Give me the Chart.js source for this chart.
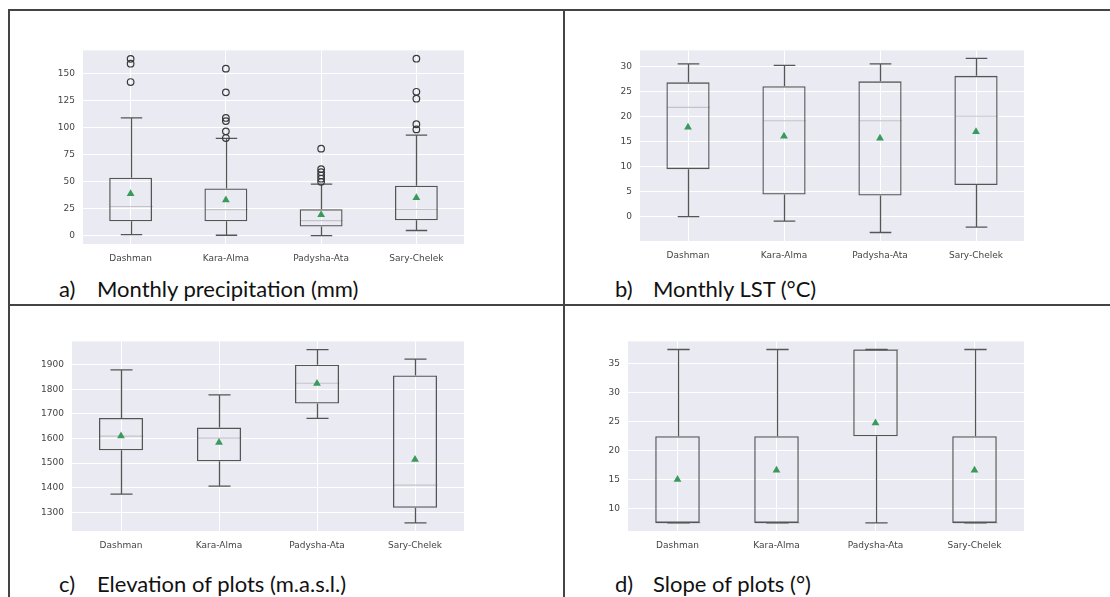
<!DOCTYPE html>
<html>
<head>
<meta charset="utf-8">
<script src="https://cdn.jsdelivr.net/npm/chart.js@4.4.0/dist/chart.umd.min.js"></script>
<style>
  body { margin: 0; background: #fff; width: 1110px; height: 597px; overflow: hidden; position: relative; font-family: Lato, sans-serif; }
  .rule { position: absolute; background: #444; }
  canvas { position: absolute; }
  .cap { position: absolute; font-size: 22px; line-height: 22px; color: #111; white-space: nowrap; }
</style>
</head>
<body>
<div class="rule" style="left:9px;top:9px;width:1101px;height:2px"></div>
<div class="rule" style="left:8px;top:9px;width:2px;height:588px"></div>
<div class="rule" style="left:563px;top:9px;width:2px;height:588px"></div>
<div class="rule" style="left:9px;top:304px;width:1101px;height:2px"></div>

<canvas id="chartA" width="447" height="237" style="left:23px;top:37px"></canvas>
<canvas id="chartB" width="450" height="234" style="left:580px;top:37px"></canvas>
<canvas id="chartC" width="458" height="233" style="left:12px;top:328px"></canvas>
<canvas id="chartD" width="462" height="233" style="left:568px;top:328px"></canvas>

<div class="cap" style="left:59px;top:278px">a)</div>
<div class="cap" style="left:97px;top:278px">Monthly precipitation (mm)</div>
<div class="cap" style="left:615px;top:278px">b)</div>
<div class="cap" style="left:653px;top:278px">Monthly LST (°C)</div>
<div class="cap" style="left:59px;top:573px">c)</div>
<div class="cap" style="left:97px;top:573px">Elevation of plots (m.a.s.l.)</div>
<div class="cap" style="left:615px;top:573px">d)</div>
<div class="cap" style="left:653px;top:573px">Slope of plots (°)</div>

<script>
const categories = ['Dashman', 'Kara-Alma', 'Padysha-Ata', 'Sary-Chelek'];

// a) monthly precipitation (mm)
const precipLow = [0.9, 0.3, 0, 4.7];
const precipQ1 = [13.3, 13.3, 8.3, 14.2];
const precipMedian = [26.9, 24, 13.9, 24.3];
const precipQ3 = [53.5, 43.5, 24.3, 46.1];
const precipHigh = [108.8, 89.9, 47.6, 92.9];
const precipMean = [38.7, 33, 19.2, 34.9];
const precipOutliers = [
  [163.5, 159, 142],
  [154.4, 132.5, 108.8, 105.9, 96.4, 90.2],
  [80.4, 61.5, 58.6, 55.6, 52.6, 49.7],
  [163.6, 133, 126.6, 103, 98.2]
];
const precipTicks = [0, 25, 50, 75, 100, 125, 150];

// b) monthly LST (°C)
const lstLow = [0, -0.9, -3.2, -2.1];
const lstQ1 = [9.5, 4.4, 4.2, 6.3];
const lstMedian = [21.9, 19.2, 19.2, 20.1];
const lstQ3 = [26.9, 26.1, 27.1, 28.2];
const lstHigh = [30.6, 30.3, 30.6, 31.7];
const lstMean = [17.9, 16.1, 15.7, 17.0];
const lstTicks = [0, 5, 10, 15, 20, 25, 30];

// c) elevation of plots (m.a.s.l.)
const elevLow = [1374, 1406, 1681, 1257];
const elevQ1 = [1552, 1507, 1742, 1318];
const elevMedian = [1609, 1601, 1824, 1410];
const elevQ3 = [1683, 1644, 1899, 1856];
const elevHigh = [1878, 1777, 1961, 1922];
const elevMean = [1610, 1583, 1823, 1514];
const elevTicks = [1300, 1400, 1500, 1600, 1700, 1800, 1900];

// d) slope of plots (°)
const slopeLow = [7.5, 7.5, 7.5, 7.5];
const slopeQ1 = [7.5, 7.5, 22.5, 7.5];
const slopeMedian = [7.5, 7.5, 37.5, 7.5];
const slopeQ3 = [22.5, 22.5, 37.5, 22.5];
const slopeHigh = [37.5, 37.5, 37.5, 37.5];
const slopeMean = [15.0, 16.6, 24.8, 16.6];
const slopeTicks = [10, 15, 20, 25, 30, 35];

const BOX_COLOR = '#555';
const MEDIAN_COLOR = '#c4c4c8';
const MEAN_COLOR = '#3a9a5b';
const TICK_FONT = { family: 'DejaVu Sans', size: 9 };

function boxPlugin(low, median, high) {
  return {
    id: 'boxParts',
    beforeDraw(chart) {
      const a = chart.chartArea;
      const ctx = chart.ctx;
      ctx.save();
      ctx.fillStyle = '#eaeaf2';
      ctx.fillRect(a.left, a.top, a.right - a.left, a.bottom - a.top);
      ctx.restore();
    },
    beforeDatasetsDraw(chart) {
      const ctx = chart.ctx;
      const y = chart.scales.y;
      const idx = chart.data.datasets.findIndex(d => d.type === 'bar');
      const meta = chart.getDatasetMeta(idx);
      const boxes = chart.data.datasets[idx].data;
      ctx.save();
      meta.data.forEach((bar, i) => {
        const cx = Math.round(bar.x) + 0.5;
        const half = bar.width / 2;
        // median
        ctx.strokeStyle = MEDIAN_COLOR;
        ctx.lineWidth = 1.2;
        ctx.beginPath();
        ctx.moveTo(cx - half, y.getPixelForValue(median[i]));
        ctx.lineTo(cx + half, y.getPixelForValue(median[i]));
        ctx.stroke();
        // whiskers and caps
        ctx.strokeStyle = BOX_COLOR;
        ctx.lineWidth = 1.3;
        ctx.beginPath();
        ctx.moveTo(cx, y.getPixelForValue(boxes[i][0]));
        ctx.lineTo(cx, y.getPixelForValue(low[i]));
        ctx.moveTo(cx, y.getPixelForValue(boxes[i][1]));
        ctx.lineTo(cx, y.getPixelForValue(high[i]));
        ctx.moveTo(cx - half / 2, y.getPixelForValue(low[i]));
        ctx.lineTo(cx + half / 2, y.getPixelForValue(low[i]));
        ctx.moveTo(cx - half / 2, y.getPixelForValue(high[i]));
        ctx.lineTo(cx + half / 2, y.getPixelForValue(high[i]));
        ctx.stroke();
      });
      ctx.restore();
    }
  };
}

function makeBoxChart(id, s) {
  const datasets = [
    {
      type: 'line',
      data: s.mean,
      showLine: false,
      pointStyle: 'triangle',
      pointRadius: 4.5,
      pointBackgroundColor: MEAN_COLOR,
      pointBorderColor: MEAN_COLOR,
      pointBorderWidth: 0,
      order: 1
    },
    {
      type: 'bar',
      data: s.q1.map((v, i) => [v, s.q3[i]]),
      backgroundColor: 'rgba(0,0,0,0)',
      borderColor: BOX_COLOR,
      borderWidth: 1.3,
      borderSkipped: false,
      barPercentage: 0.45,
      categoryPercentage: 1,
      order: 3
    }
  ];
  if (s.outliers) {
    const pts = [];
    s.outliers.forEach((list, i) => list.forEach(v => pts.push({ x: categories[i], y: v })));
    datasets.push({
      type: 'line',
      data: pts,
      showLine: false,
      pointStyle: 'circle',
      pointRadius: 3.3,
      pointBackgroundColor: 'rgba(0,0,0,0)',
      pointBorderColor: '#3a3a3a',
      pointBorderWidth: 1.2,
      order: 2
    });
  }
  return new Chart(document.getElementById(id), {
    type: 'bar',
    data: { labels: categories, datasets: datasets },
    options: {
      responsive: false,
      animation: false,
      layout: { padding: { top: 6, right: 6, left: 0, bottom: 0 } },
      plugins: { legend: { display: false }, tooltip: { enabled: false } },
      scales: {
        x: {
          offset: true,
          grid: { offset: false, color: '#ffffff', lineWidth: 1, drawTicks: false },
          border: { display: false },
          ticks: { color: '#444', font: TICK_FONT, padding: 9 },
          afterFit: sc => { sc.height = 30; }
        },
        y: {
          min: s.min,
          max: s.max,
          grid: { color: '#ffffff', lineWidth: 1, drawTicks: false },
          border: { display: false },
          ticks: { color: '#444', font: TICK_FONT, padding: 8, callback: v => String(v) },
          afterBuildTicks: sc => { sc.ticks = s.ticks.map(v => ({ value: v })); },
          afterFit: sc => { sc.width = 60; }
        }
      }
    },
    plugins: [boxPlugin(s.low, s.median, s.high)]
  });
}

makeBoxChart('chartA', {
  low: precipLow, q1: precipQ1, median: precipMedian, q3: precipQ3, high: precipHigh,
  mean: precipMean, outliers: precipOutliers, ticks: precipTicks, min: -7.8, max: 171.3
});
makeBoxChart('chartB', {
  low: lstLow, q1: lstQ1, median: lstMedian, q3: lstQ3, high: lstHigh,
  mean: lstMean, ticks: lstTicks, min: -4.9, max: 33.3
});
makeBoxChart('chartC', {
  low: elevLow, q1: elevQ1, median: elevMedian, q3: elevQ3, high: elevHigh,
  mean: elevMean, ticks: elevTicks, min: 1224, max: 1994
});
makeBoxChart('chartD', {
  low: slopeLow, q1: slopeQ1, median: slopeMedian, q3: slopeQ3, high: slopeHigh,
  mean: slopeMean, ticks: slopeTicks, min: 6.1, max: 38.9
});
</script>
</body>
</html>
